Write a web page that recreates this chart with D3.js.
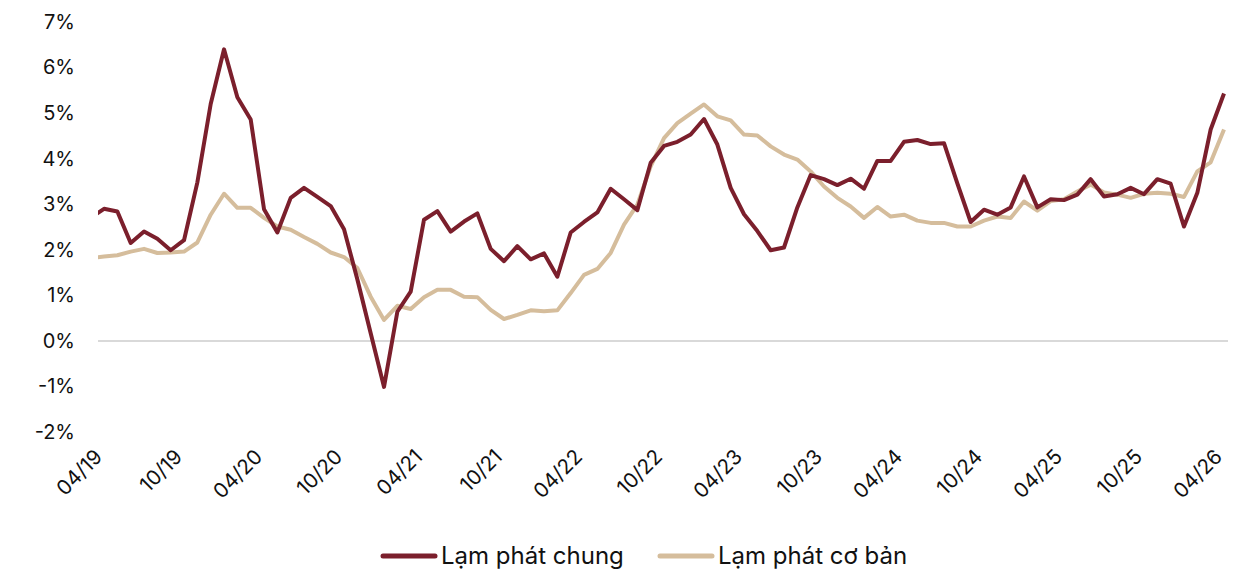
<!DOCTYPE html>
<html><head><meta charset="utf-8">
<script src="https://cdn.jsdelivr.net/npm/d3@7/dist/d3.min.js"></script>
<style>
html,body{margin:0;padding:0;background:#fff;}
svg{display:block;font-family:Inter,"Noto Sans",sans-serif;}
</style></head><body>
<svg id="c" width="1255" height="571"></svg>
<script>
const months = ["03/19","04/19","05/19","06/19","07/19","08/19","09/19","10/19","11/19","12/19",
"01/20","02/20","03/20","04/20","05/20","06/20","07/20","08/20","09/20","10/20","11/20","12/20",
"01/21","02/21","03/21","04/21","05/21","06/21","07/21","08/21","09/21","10/21","11/21","12/21",
"01/22","02/22","03/22","04/22","05/22","06/22","07/22","08/22","09/22","10/22","11/22","12/22",
"01/23","02/23","03/23","04/23","05/23","06/23","07/23","08/23","09/23","10/23","11/23","12/23",
"01/24","02/24","03/24","04/24","05/24","06/24","07/24","08/24","09/24","10/24","11/24","12/24",
"01/25","02/25","03/25","04/25","05/25","06/25","07/25","08/25","09/25","10/25","11/25","12/25",
"01/26","02/26","03/26","04/26"];
const headline = [2.70,2.90,2.84,2.15,2.40,2.24,1.99,2.21,3.48,5.20,
6.40,5.35,4.86,2.89,2.38,3.14,3.36,3.16,2.96,2.45,1.35,0.17,
-1.01,0.64,1.08,2.66,2.85,2.40,2.62,2.80,2.02,1.75,2.08,1.79,
1.92,1.41,2.38,2.61,2.82,3.34,3.11,2.87,3.91,4.28,4.37,4.53,
4.87,4.31,3.36,2.78,2.41,1.99,2.05,2.93,3.64,3.55,3.42,3.56,
3.34,3.95,3.95,4.37,4.41,4.32,4.34,3.46,2.61,2.88,2.77,2.93,
3.61,2.93,3.11,3.09,3.21,3.55,3.17,3.22,3.36,3.22,3.55,3.45,
2.51,3.25,4.64,5.43];
const core = [1.82,1.85,1.88,1.96,2.02,1.93,1.94,1.96,2.16,2.77,
3.23,2.92,2.92,2.70,2.51,2.44,2.28,2.13,1.94,1.84,1.60,0.97,
0.46,0.77,0.70,0.96,1.12,1.12,0.97,0.96,0.68,0.48,0.57,0.67,
0.65,0.67,1.05,1.45,1.58,1.93,2.55,2.99,3.83,4.45,4.78,4.99,
5.19,4.93,4.84,4.53,4.51,4.27,4.09,3.98,3.72,3.39,3.14,2.95,
2.70,2.94,2.73,2.77,2.64,2.59,2.59,2.51,2.51,2.64,2.73,2.70,
3.06,2.86,3.07,3.11,3.28,3.43,3.26,3.21,3.14,3.23,3.25,3.23,
3.16,3.72,3.92,4.64];
const tickLabels = ["04/19","10/19","04/20","10/20","04/21","10/21","04/22","10/22","04/23","10/23","04/24","10/24","04/25","10/25","04/26"];
const yTicks = [-2,-1,0,1,2,3,4,5,6,7];
const seriesNames = ["Lạm phát chung","Lạm phát cơ bản"];
const colors = ["#7B1F2C","#D5BD9C"];

const svg = d3.select("#c");
const x = d3.scalePoint().domain(months).range([90.7, 1224]);
const y = d3.scaleLinear().domain([-2, 7]).range([432, 22]);
const plotLeft = 98, plotRight = 1240;

svg.append("defs").append("clipPath").attr("id","clip")
  .append("rect").attr("x",plotLeft).attr("y",0).attr("width",plotRight-plotLeft).attr("height",571);

// zero line
svg.append("line").attr("x1",plotLeft).attr("x2",1228)
  .attr("y1",y(0)).attr("y2",y(0)).attr("stroke","#d9d9d9").attr("stroke-width",2);

// y axis labels
const yAxis = d3.axisLeft(y).tickValues(yTicks).tickFormat(d=>d+"%").tickSize(0).tickPadding(0);
const gy = svg.append("g").attr("transform","translate(75,0)").call(yAxis);
gy.select(".domain").remove();
gy.selectAll("text").attr("font-size",20).attr("fill","#111").attr("font-family","Inter,sans-serif");

// x axis labels
const xAxis = d3.axisBottom(x).tickValues(tickLabels).tickSize(0).tickPadding(0);
const gx = svg.append("g").call(xAxis);
gx.select(".domain").remove();
gx.selectAll("text")
  .attr("font-size",20.5).attr("fill","#111").attr("font-family","Inter,sans-serif")
  .attr("text-anchor","end").attr("dy",0).attr("y",0)
  .attr("transform", "translate(-1,458) rotate(-45)");

// lines
const line = d3.line().x((d,i)=>x(months[i])).y(d=>y(d));
const g = svg.append("g").attr("clip-path","url(#clip)");
[core, headline].forEach((s,k)=>{
  g.append("path").datum(s).attr("d",line).attr("fill","none")
    .attr("stroke", k===0?colors[1]:colors[0]).attr("stroke-width",4)
    .attr("stroke-linejoin","round");
});

// legend
const leg = svg.append("g");
const legX = [383, 660];
seriesNames.forEach((n,k)=>{
  leg.append("line").attr("x1",legX[k]).attr("x2",legX[k]+52).attr("y1",556).attr("y2",556)
    .attr("stroke",colors[k]).attr("stroke-width",5).attr("stroke-linecap","round");
  leg.append("text").attr("x",legX[k]+58).attr("y",564).attr("font-size",24)
    .attr("fill","#111").attr("font-family","Inter,sans-serif").text(n);
});
</script>
</body></html>
